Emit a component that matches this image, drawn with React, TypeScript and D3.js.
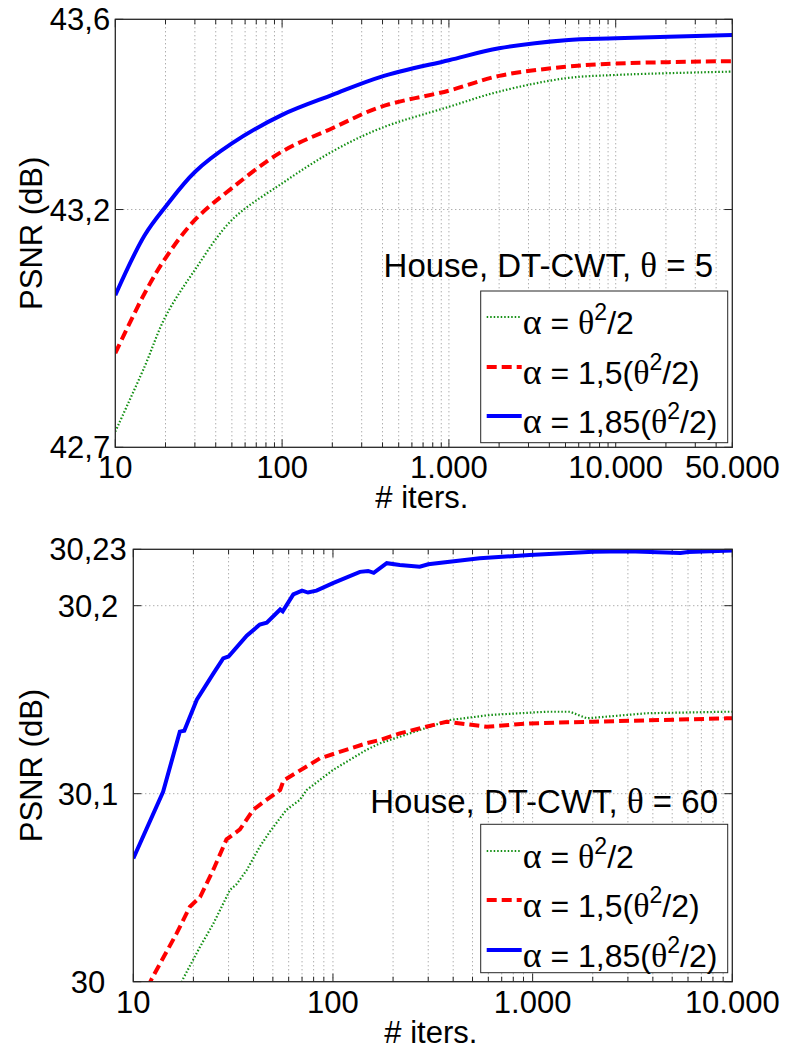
import React from "react";
import * as d3 from "d3";

// ---------- DATA ----------
// Panel 1 (θ = 5)
const topXTicks = [10, 100, 1000, 10000, 50000];
const topXLabels = ["10", "100", "1.000", "10.000", "50.000"];
const topYTicks = [42.7, 43.2, 43.6];
const topYLabels = ["42,7", "43,2", "43,6"];

const topGreen: [number, number][] = [
  [10, 42.733], [15, 42.87], [20, 42.975], [30, 43.073], [50, 43.178], [100, 43.255],
  [200, 43.322], [391, 43.371], [1000, 43.416], [2000, 43.448], [5000, 43.476],
  [10000, 43.483], [50000, 43.49],
];
const topRed: [number, number][] = [
  [10, 42.898], [15, 43.024], [20, 43.098], [30, 43.178], [50, 43.245], [100, 43.322],
  [200, 43.371], [391, 43.416], [1000, 43.45], [2000, 43.481], [5000, 43.5],
  [10000, 43.507], [50000, 43.512],
];
const topBlue: [number, number][] = [
  [10, 43.02], [15, 43.146], [20, 43.206], [30, 43.279], [50, 43.339], [100, 43.399],
  [200, 43.441], [391, 43.479], [1000, 43.514], [2000, 43.539], [5000, 43.556],
  [10000, 43.56], [50000, 43.567],
];

// Panel 2 (θ = 60)
const botXTicks = [10, 100, 1000, 10000];
const botXLabels = ["10", "100", "1.000", "10.000"];
const botYTicks = [30, 30.1, 30.2, 30.23];
const botYLabels = ["30", "30,1", "30,2", "30,23"];

const botGreen: [number, number][] = [
  [17.2, 29.998], [17.8, 30.0018], [21.6, 30.0186], [25.2, 30.031], [30.5, 30.0488], [33, 30.052],
  [37, 30.0594], [43, 30.0718], [48.3, 30.0798], [58.4, 30.0914], [68.2, 30.0967],
  [73.9, 30.102], [100, 30.1126], [147, 30.1233], [172, 30.1268], [216, 30.1303],
  [385, 30.1392], [615, 30.1419], [1170, 30.1436], [1540, 30.1436], [1870, 30.1401],
  [3740, 30.1428], [9360, 30.1436], [10000, 30.1436],
];
const botRed: [number, number][] = [
  [11.8, 29.997], [12.4, 30.0018], [16.5, 30.0258], [19.2, 30.0399], [21.6, 30.045], [25.2, 30.0597],
  [29.3, 30.0757], [34.2, 30.081], [39.9, 30.0915], [46.6, 30.0968], [54.4, 30.102],
  [56.5, 30.107], [86, 30.1188], [147, 30.1268], [172, 30.1286], [216, 30.1321],
  [370, 30.1383], [590, 30.1356], [965, 30.1374], [2010, 30.1383], [9360, 30.1401],
  [10000, 30.1401],
];
const botBlue: [number, number][] = [
  [10, 30.0656], [14.1, 30.101], [17.1, 30.133], [18, 30.1335], [20.8, 30.15], [25.2, 30.164],
  [28.2, 30.172], [30, 30.173], [37, 30.184], [43, 30.19], [46.6, 30.191], [54.4, 30.198],
  [56, 30.197], [63.3, 30.206], [70, 30.208], [75, 30.207], [82.7, 30.208], [100, 30.212],
  [136.5, 30.218], [150, 30.2185], [160, 30.2175], [186, 30.2226], [216, 30.2217],
  [272, 30.2207], [300, 30.222], [543, 30.2252], [965, 30.227], [2010, 30.2287],
  [3000, 30.229], [5500, 30.228], [6000, 30.2285], [10000, 30.2293],
];

const FONT = "'Liberation Sans', Arial, Helvetica, sans-serif";
const GREEK = "'Liberation Serif', 'DejaVu Serif', serif";
const GREEN = "#138f13";

type PanelProps = {
  id: string;
  left: number; top: number; right: number; bottom: number;
  xDomain: [number, number]; yDomain: [number, number];
  xTicks: number[]; xLabels: string[];
  yTicks: number[]; yLabels: string[];
  yLabelX: number;
  green: [number, number][]; red: [number, number][]; blue: [number, number][];
  smooth: boolean;
  theta: string; annotRight: number; annotBaseline: number;
  legendBox: [number, number, number, number];
  legendRows: number[];
};

function Panel(p: PanelProps) {
  const x = d3.scaleLog().domain(p.xDomain).range([p.left, p.right]);
  const y = d3.scaleLinear().domain(p.yDomain).range([p.bottom, p.top]);
  const all = x.ticks().filter((t) => t >= p.xDomain[0] && t <= p.xDomain[1] * 1.0001);
  const isMajor = (t: number) => Math.abs(Math.log10(t) - Math.round(Math.log10(t))) < 1e-9;
  const line = d3.line<[number, number]>().x((d) => x(d[0])).y((d) => y(d[1]))
    .curve(p.smooth ? d3.curveCatmullRom.alpha(0.5) : d3.curveLinear);
  const axisColor = "#262626";
  const gridColor = "#8c8c8c";
  const [lx0, ly0, lx1, ly1] = p.legendBox;
  return (
    <g>
      <defs>
        <clipPath id={p.id}>
          <rect x={p.left} y={p.top} width={p.right - p.left} height={p.bottom - p.top} />
        </clipPath>
      </defs>
      <rect x={p.left} y={p.top} width={p.right - p.left} height={p.bottom - p.top} fill="#fff" />
      {all.filter((t) => t > p.xDomain[0] && t < p.xDomain[1]).map((t, i) => (
        <line key={"gx" + i} x1={x(t)} x2={x(t)} y1={p.top} y2={p.bottom} stroke={gridColor}
          strokeWidth={1} strokeDasharray="1,3" />
      ))}
      {p.yTicks.filter((t) => t > p.yDomain[0] && t < p.yDomain[1]).map((t, i) => (
        <line key={"gy" + i} x1={p.left} x2={p.right} y1={y(t)} y2={y(t)} stroke={gridColor}
          strokeWidth={1} strokeDasharray="1,3" />
      ))}
      {all.map((t, i) => {
        const len = isMajor(t) ? 8 : 5;
        return (
          <g key={"tx" + i}>
            <line x1={x(t)} x2={x(t)} y1={p.bottom} y2={p.bottom - len} stroke={axisColor} strokeWidth={1} />
            <line x1={x(t)} x2={x(t)} y1={p.top} y2={p.top + len} stroke={axisColor} strokeWidth={1} />
          </g>
        );
      })}
      {p.yTicks.map((t, i) => (
        <g key={"ty" + i}>
          <line x1={p.left} x2={p.left + 8} y1={y(t)} y2={y(t)} stroke={axisColor} strokeWidth={1} />
          <line x1={p.right} x2={p.right - 8} y1={y(t)} y2={y(t)} stroke={axisColor} strokeWidth={1} />
        </g>
      ))}
      <g clipPath={`url(#${p.id})`}>
        <path d={line(p.green) || ""} fill="none" stroke={GREEN} strokeWidth={2.2} strokeDasharray="1.5,2" />
        <path d={line(p.red) || ""} fill="none" stroke="#ff0000" strokeWidth={4} strokeDasharray="10,5" />
        <path d={line(p.blue) || ""} fill="none" stroke="#0000ff" strokeWidth={4} />
      </g>
      <rect x={p.left} y={p.top} width={p.right - p.left} height={p.bottom - p.top} fill="none"
        stroke={axisColor} strokeWidth={1.3} />
      {p.xTicks.map((t, i) => (
        <text key={"xl" + i} x={x(t)} y={p.bottom + 31} textAnchor="middle" fontSize={31} fontFamily={FONT}>
          {p.xLabels[i]}
        </text>
      ))}
      {p.yTicks.map((t, i) => (
        <text key={"yl" + i} x={p.yLabelX} y={y(t)} dy="0.36em" textAnchor="middle" fontSize={31} fontFamily={FONT}>
          {p.yLabels[i]}
        </text>
      ))}
      <text x={(p.left + p.right) / 2 - 2} y={p.bottom + 61} textAnchor="middle" fontSize={31} fontFamily={FONT}>
        # iters.
      </text>
      <text transform={`translate(42,${(p.top + p.bottom) / 2}) rotate(-90)`} textAnchor="middle"
        fontSize={31} fontFamily={FONT}>
        PSNR (dB)
      </text>
      <text x={p.annotRight} y={p.annotBaseline} textAnchor="end" fontSize={33} fontFamily={FONT}>
        House, DT-CWT, <tspan fontFamily={GREEK} fontSize={35}>θ</tspan> = {p.theta}
      </text>
      <rect x={lx0} y={ly0} width={lx1 - lx0} height={ly1 - ly0} fill="#fff" stroke={axisColor} strokeWidth={1} />
      {[0, 1, 2].map((k) => {
        const ly = p.legendRows[k];
        const stroke = k === 0 ? GREEN : k === 1 ? "#ff0000" : "#0000ff";
        const sw = k === 0 ? 2.2 : 4;
        const dash = k === 0 ? "1.5,2" : k === 1 ? "10,5" : undefined;
        const coef = k === 0 ? "" : k === 1 ? "1,5(" : "1,85(";
        const close = k === 0 ? "" : ")";
        return (
          <g key={"lg" + k}>
            <line x1={lx0 + 6} x2={lx0 + 41} y1={ly} y2={ly} stroke={stroke} strokeWidth={sw} strokeDasharray={dash} />
            <text x={lx0 + 42} y={ly + 17} fontSize={32} fontFamily={FONT}>
              <tspan fontFamily={GREEK} fontSize={36}>α</tspan> = {coef}<tspan fontFamily={GREEK} fontSize={34}>θ</tspan>
              <tspan dy={-14} fontSize={23}>2</tspan>
              <tspan dy={14}>/2{close}</tspan>
            </text>
          </g>
        );
      })}
    </g>
  );
}

export default function App() {
  return (
    <div style={{ position: "absolute", left: 0, top: 0 }}>
      <svg width={785} height={1052} style={{ display: "block", background: "#fff" }}>
        <Panel id="c1" left={115.3} top={19.3} right={732.3} bottom={447.3}
          xDomain={[10, 50000]} yDomain={[42.7, 43.6]}
          xTicks={topXTicks} xLabels={topXLabels} yTicks={topYTicks} yLabels={topYLabels}
          yLabelX={80} green={topGreen} red={topRed} blue={topBlue} smooth={true}
          theta="5" annotRight={713} annotBaseline={277}
          legendBox={[480.7, 291, 727.7, 442.7]} legendRows={[317, 367, 416]} />
        <Panel id="c2" left={133.3} top={549.3} right={732.3} bottom={981.7}
          xDomain={[10, 10000]} yDomain={[30, 30.23]}
          xTicks={botXTicks} xLabels={botXLabels} yTicks={botYTicks} yLabels={botYLabels}
          yLabelX={88} green={botGreen} red={botRed} blue={botBlue} smooth={false}
          theta="60" annotRight={718} annotBaseline={813}
          legendBox={[480.7, 824.3, 727.7, 972.7]} legendRows={[851, 900, 950]} />
      </svg>
    </div>
  );
}
